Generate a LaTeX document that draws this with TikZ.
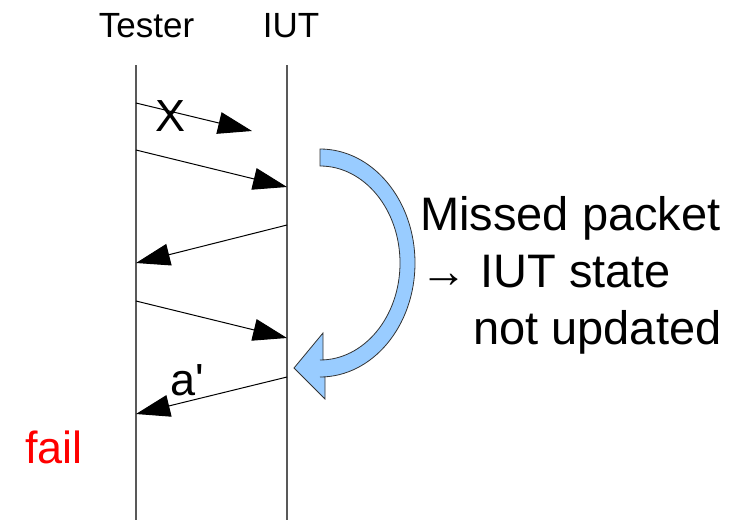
\documentclass[tikz,border=0pt]{standalone}
\usepackage{fontspec}
\setmainfont{Liberation Sans}
\usetikzlibrary{arrows.meta}
\definecolor{turnblue}{RGB}{153,204,255}
\tikzset{
  msg/.style={-{Triangle[length=34pt,width=22pt]}, line width=1pt},
  life/.style={line width=1.4pt, draw=black!65},
  head/.style={inner sep=0pt, anchor=base, font=\fontsize{35}{42}\selectfont},
  tag/.style={inner sep=0pt, anchor=base, font=\fontsize{45}{54}\selectfont},
  note/.style={inner sep=0pt, anchor=base west, font=\fontsize{47}{56}\selectfont}
}

\begin{document}
\begin{tikzpicture}[x=1pt, y=-1pt]
    \useasboundingbox (0,0) rectangle (733,520);
    \node[head] (tester) at (146.5,37) {Tester};
    \node[head] (iut) at (291,37) {IUT};
    % lifelines
    \coordinate (ttop) at (136,65);
    \coordinate (tbot) at (136,520);
    \coordinate (itop) at (287,65);
    \coordinate (ibot) at (287,520);
    \draw[life] (ttop) -- (tbot);
    \draw[life] (itop) -- (ibot);
    % message ends
    \coordinate (t1) at (136,103);
    \coordinate (lost) at (252,131);
    \coordinate (t2) at (136,150);
    \coordinate (i2) at (287,187);
    \coordinate (i3) at (287,225);
    \coordinate (t3) at (136,263);
    \coordinate (t4) at (136,301);
    \coordinate (i4) at (287,338);
    \coordinate (i5) at (287,377);
    \coordinate (t5) at (136,414);
    \draw[msg] (t1) -- (lost);
    \draw[msg] (t2) -- (i2);
    \draw[msg] (i3) -- (t3);
    \draw[msg] (t4) -- (i4);
    \draw[msg] (i5) -- (t5);
    \node[tag] (x) at (171,131) {X};
    \node[tag] (aprime) at (187,395) {a\textquotesingle};
    \node[tag, anchor=base west, text=red] (fail) at (25,463) {fail};
    % turning arrow
    \filldraw[fill=turnblue, draw=black!80, line width=0.8pt]
      (320,149) arc[start angle=-90, end angle=90, x radius=95, y radius=114]
      -- (325,377) -- (325,399) -- (294,368) -- (323,333) -- (323,360)
      -- (320,360) arc[start angle=90, end angle=-90, x radius=80, y radius=97]
      -- cycle;
    \node[note] (missed) at (420,230) {Missed packet};
    \node[note] (state) at (420,287) {→ IUT state};
    \node[note] (upd) at (473,344) {not updated};
\end{tikzpicture}
\end{document}
